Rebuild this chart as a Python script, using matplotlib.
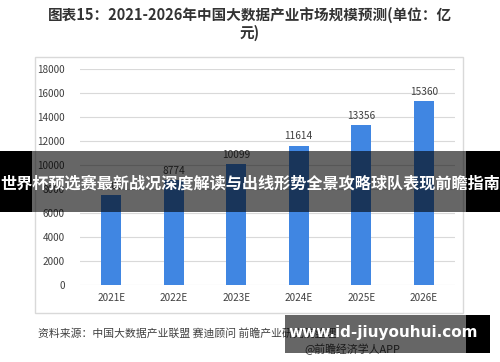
import matplotlib
matplotlib.use("Agg")
import matplotlib.pyplot as plt
from matplotlib.patches import Rectangle

plt.rcParams['font.family'] = ['Noto Sans CJK SC', 'DejaVu Sans']

# data (unit: 亿元)
years = ["2021E", "2022E", "2023E", "2024E", "2025E", "2026E"]
market_size = [7500, 8774, 10099, 11614, 13356, 15360]
y_ticks = [0, 2000, 4000, 6000, 8000, 10000, 12000, 14000, 16000, 18000]

title = "图表15：2021-2026年中国大数据产业市场规模预测(单位：亿\n元)"
source = "资料来源：中国大数据产业联盟 赛迪顾问 前瞻产业研究院整理"
app_tag = "@前瞻经济学人APP"
banner = "世界杯预选赛最新战况深度解读与出线形势全景攻略球队表现前瞻指南"
site = "www.id-jiuyouhui.com"

W, H = 500, 362
fig = plt.figure(figsize=(W / 100, H / 100), dpi=100)
fig.patch.set_facecolor("white")


def px(x, y):
    # pixel coords (top-left origin) -> figure fraction
    return x / W, 1 - y / H


def box(xa, ya, xb, yb, **kw):
    # rectangle in pixel coords, added on the figure
    fx, fy = px(xa, yb)
    r = Rectangle((fx, fy), (xb - xa) / W, (yb - ya) / H, transform=fig.transFigure,
                  edgecolor="none", **kw)
    fig.patches.append(r)
    return r


# chart frame
box(35, 57, 463, 313, facecolor="none", zorder=-5).set(edgecolor="#d9d9d9", lw=1)

fig.text(0.5, px(0, 24)[1], title, ha="center", va="center", fontsize=10.5,
         fontweight="bold", color="#333333", linespacing=1.15)

ax = fig.add_axes([80 / W, (H - 285) / H, 375 / W, 216 / H])
ax.set_facecolor("none")
xs = range(len(years))
bars = ax.bar(xs, market_size, width=0.32, color="#4086e2", zorder=3)
ax.bar_label(bars, labels=[str(v) for v in market_size], padding=3,
             fontsize=7.3, color="#404040")
ax.set_xlim(-0.5, len(years) - 0.5)
ax.set_ylim(0, 18000)
ax.set_yticks(y_ticks)
ax.set_yticklabels([str(t) for t in y_ticks])
ax.set_xticks(list(xs))
ax.set_xticklabels(years)
ax.grid(axis="y", color="#d9d9d9", lw=0.8, zorder=0)
for s in ax.spines.values():
    s.set_visible(False)
ax.tick_params(length=0, labelsize=7.2, labelcolor="#404040")
ax.tick_params(axis="y", pad=11)
ax.tick_params(axis="x", pad=6)

fig.text(38 / W, px(0, 333)[1], source, ha="left", va="center", fontsize=7.8,
         color="#404040")
fig.text(400 / W, px(0, 349)[1], app_tag, ha="right", va="center", fontsize=7.8,
         color="#404040")

# overlay banner across the middle
box(0, 151, 32, 212, facecolor="black", zorder=10)
box(466, 151, W, 212, facecolor="black", zorder=10)
box(32, 151, 466, 212, facecolor="black", alpha=0.6, zorder=10)
fig.text(0.5, px(0, 184)[1], banner, ha="center", va="center", fontsize=11.6,
         fontweight="bold", color="white", zorder=11)

# site box at the bottom right
box(285, 315, 466, 353, facecolor="black", alpha=0.6, zorder=10)
box(466, 315, 490, 353, facecolor="black", zorder=10)
fig.text(383 / W, px(0, 333)[1], site, ha="center", va="center", fontsize=11,
         fontweight="bold", color="white", family="DejaVu Sans", zorder=11)

fig.savefig("out.png", dpi=100)
